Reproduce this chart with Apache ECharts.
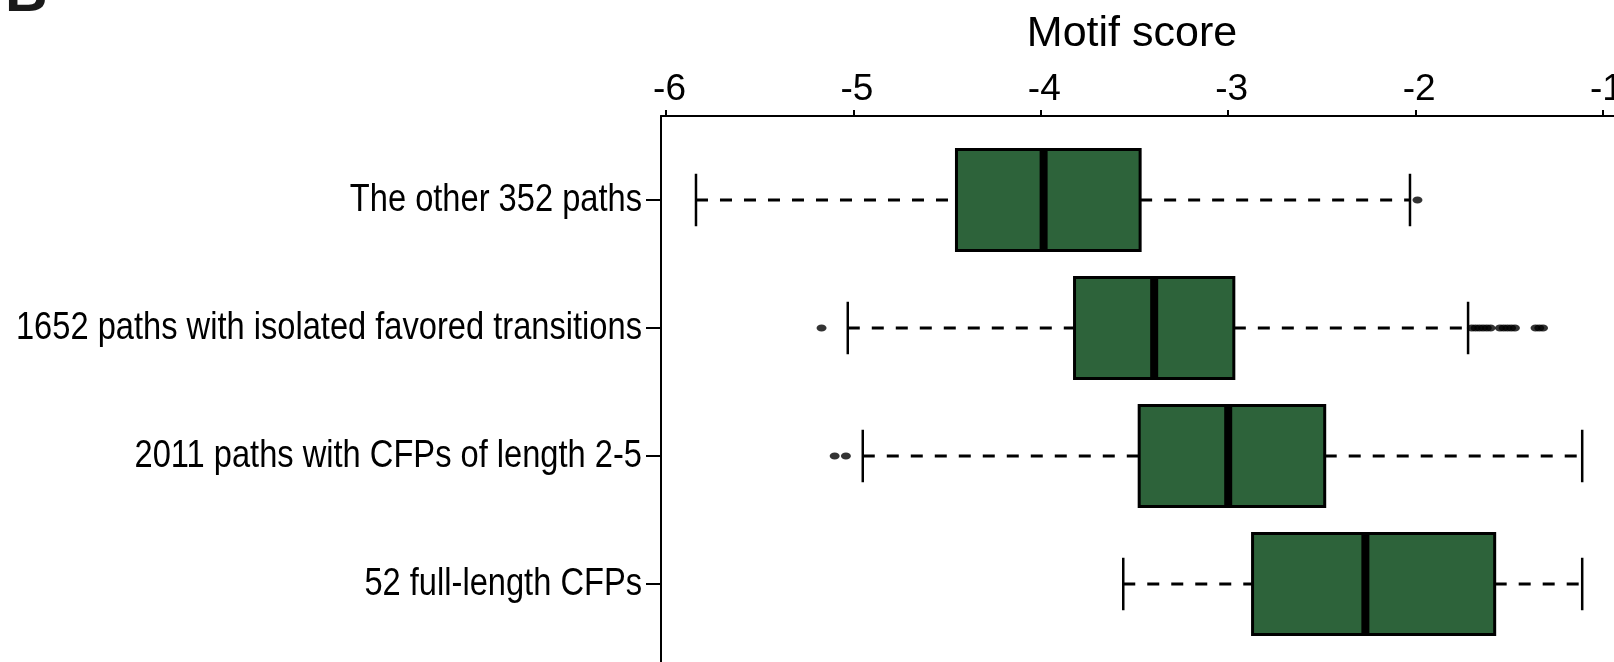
<!DOCTYPE html>
<html>
<head>
<meta charset="utf-8">
<script src="https://cdn.jsdelivr.net/npm/echarts@6/dist/echarts.min.js"></script>
<style>
html, body { margin: 0; padding: 0; background: #ffffff; }
#chart { width: 1614px; height: 662px; }
</style>
</head>
<body>
<div id="chart"></div>
<script>
// Path groups, listed top to bottom
const categories = [
  'The other 352 paths',
  '1652 paths with isolated favored transitions',
  '2011 paths with CFPs of length 2-5',
  '52 full-length CFPs'
];

// Five-number summaries of the motif score per group
const whiskerLow  = [-5.84, -5.03, -4.95, -3.56];
const quartile1   = [-4.45, -3.82, -3.475, -2.87];
const medians     = [-3.985, -3.395, -3.0, -2.268];
const quartile3   = [-3.47, -2.97, -2.485, -1.578];
const whiskerHigh = [-2.03, -1.72, -1.111, -1.111];

// Points beyond the whiskers, per group
const outliers = [
  [-1.99],
  [-5.17, -1.70, -1.68, -1.66, -1.64, -1.62, -1.60, -1.55, -1.53, -1.51, -1.49, -1.47, -1.36, -1.34, -1.32],
  [-5.10, -5.04],
  []
];

// Axis ticks and limits
const tickValues = [-6, -5, -4, -3, -2, -1];
const axisMin = -6.0267;
const axisMax = -0.9413;

const boxData = categories.map((c, i) =>
  [i, whiskerLow[i], quartile1[i], medians[i], quartile3[i], whiskerHigh[i]]);
const outlierData = [];
outliers.forEach((vals, i) => vals.forEach(v => outlierData.push([v, i])));

const BOX_FILL = '#2d633a';
const LABEL_FONT = '"Liberation Sans", Arial, sans-serif';

function renderBox(params, api) {
  const i = api.value(0);
  const lo = api.coord([api.value(1), i]);
  const b1 = api.coord([api.value(2), i]);
  const md = api.coord([api.value(3), i]);
  const b3 = api.coord([api.value(4), i]);
  const hi = api.coord([api.value(5), i]);
  const band = api.size([0, 1])[1];
  const half = band * 0.395;
  const cap = band * 0.205;
  const y = md[1];
  const axisX = params.coordSys.x;
  const dash = { stroke: '#000', lineWidth: 3, lineDash: [12, 12] };
  const solid = { stroke: '#000', lineWidth: 2.5 };
  return {
    type: 'group',
    children: [
      // condensed group name left of the axis tick
      { type: 'text', x: axisX - 19, y: y, scaleX: 0.837, scaleY: 1,
        style: { text: categories[i], fill: '#000', align: 'right', verticalAlign: 'middle',
                 fontSize: 39, fontFamily: LABEL_FONT } },
      { type: 'line', shape: { x1: lo[0], y1: y, x2: b1[0], y2: y }, style: dash },
      { type: 'line', shape: { x1: b3[0], y1: y, x2: hi[0], y2: y }, style: dash },
      { type: 'line', shape: { x1: lo[0], y1: y - cap, x2: lo[0], y2: y + cap }, style: solid },
      { type: 'line', shape: { x1: hi[0], y1: y - cap, x2: hi[0], y2: y + cap }, style: solid },
      { type: 'rect', shape: { x: b1[0], y: y - half, width: b3[0] - b1[0], height: 2 * half },
        style: { fill: BOX_FILL, stroke: '#000', lineWidth: 3 } },
      { type: 'line', shape: { x1: md[0], y1: y - half, x2: md[0], y2: y + half },
        style: { stroke: '#000', lineWidth: 8 } }
    ]
  };
}

const chart = echarts.init(document.getElementById('chart'), null, { renderer: 'canvas' });

chart.setOption({
  animation: false,
  backgroundColor: '#ffffff',
  grid: [
    // plotting band for the boxes
    { left: 661, right: 0, top: 136, height: 512, containLabel: false, outerBoundsMode: 'none' },
    // frame carrying the top score axis and the left border
    { left: 661, right: 0, top: 116, bottom: -30, containLabel: false, outerBoundsMode: 'none' }
  ],
  xAxis: [
    { gridIndex: 0, type: 'value', min: axisMin, max: axisMax, show: false },
    {
      gridIndex: 1, type: 'value', position: 'top', min: axisMin, max: axisMax,
      axisLine: { show: true, onZero: false, lineStyle: { color: '#000', width: 2 } },
      axisTick: { show: true, customValues: tickValues, length: 6, lineStyle: { color: '#000', width: 2 } },
      axisLabel: {
        show: true, customValues: tickValues, margin: 8, padding: [0, 0, 0, 7],
        color: '#000', fontSize: 37, fontFamily: LABEL_FONT
      },
      splitLine: { show: false }
    }
  ],
  yAxis: [
    {
      gridIndex: 0, type: 'category', data: categories, inverse: true,
      axisLine: { show: false },
      axisTick: { show: true, alignWithLabel: true, length: 15, lineStyle: { color: '#000', width: 2 } },
      axisLabel: { show: false },
      splitLine: { show: false }
    },
    {
      gridIndex: 1, type: 'value', min: 0, max: 1,
      axisLine: { show: true, onZero: false, lineStyle: { color: '#000', width: 2 } },
      axisTick: { show: false }, axisLabel: { show: false }, splitLine: { show: false }
    }
  ],
  graphic: [
    {
      type: 'text', x: 1132, y: 13, silent: true,
      style: {
        text: 'Motif score', fill: '#000', align: 'center', verticalAlign: 'top',
        fontSize: 43, fontFamily: LABEL_FONT
      }
    },
    {
      type: 'text', x: 5, y: -35, silent: true,
      style: {
        text: 'B', fill: '#1a1a1a', align: 'left', verticalAlign: 'top',
        fontSize: 59, fontWeight: 'bold', fontFamily: LABEL_FONT
      }
    }
  ],
  series: [
    {
      type: 'custom', xAxisIndex: 0, yAxisIndex: 0,
      data: boxData, encode: { y: 0, x: [1, 2, 3, 4, 5] },
      renderItem: renderBox, silent: true, clip: false
    },
    {
      type: 'scatter', xAxisIndex: 0, yAxisIndex: 0,
      data: outlierData, symbol: 'circle', symbolSize: [10, 7],
      itemStyle: { color: '#000' }, silent: true, z: 3
    }
  ]
});
</script>
</body>
</html>
